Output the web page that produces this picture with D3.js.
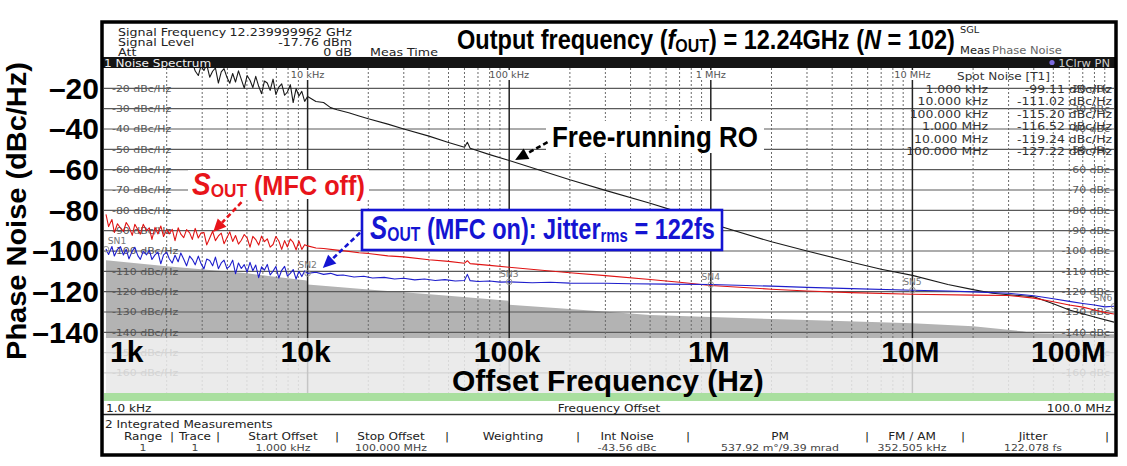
<!DOCTYPE html>
<html>
<head>
<meta charset="utf-8">
<script src="https://d3js.org/d3.v7.min.js"></script>
<style>
  body { margin: 0; background: #fff; }
  svg { display: block; }
</style>
</head>
<body>
<script>
// ---- chart data (frequencies in kHz, levels in dBc/Hz) ----
var decadeFreqs = [1, 10, 100, 1000, 10000, 100000];
var decadeLabels = ["1k", "10k", "100k", "1M", "10M", "100M"];
var topFreqs = [10, 100, 1000, 10000];
var topFreqLabels = ["10 kHz", "100 kHz", "1 MHz", "10 MHz"];
var bigYTicks = [-20, -40, -60, -80, -100, -120, -140];
var gridLevels = [-20, -30, -40, -50, -60, -70, -80, -90, -100, -110, -120, -130, -140, -150, -160];

var spotFreqLabels = ["1.000 kHz", "10.000 kHz", "100.000 kHz", "1.000 MHz", "10.000 MHz", "100.000 MHz"];
var spotValues = [-99.11, -111.02, -115.20, -116.52, -119.24, -127.22];
var markerNames = ["SN1", "SN2", "SN3", "SN4", "SN5", "SN6"];

// low offset part (1 kHz - 10 kHz) is measured with few averages -> noisy
var noisyFreqsKHz = [1.00, 1.03, 1.07, 1.10, 1.14, 1.18, 1.22, 1.26, 1.30, 1.35,
  1.39, 1.44, 1.48, 1.53, 1.59, 1.64, 1.69, 1.75, 1.81, 1.87,
  1.93, 2.00, 2.06, 2.13, 2.20, 2.28, 2.35, 2.43, 2.51, 2.60,
  2.68, 2.77, 2.87, 2.96, 3.06, 3.16, 3.27, 3.38, 3.49, 3.61,
  3.73, 3.85, 3.98, 4.11, 4.25, 4.39, 4.54, 4.69, 4.85, 5.01,
  5.18, 5.35, 5.53, 5.72, 5.91, 6.11, 6.31, 6.52, 6.74, 6.96,
  7.20, 7.44, 7.69, 7.94, 8.21, 8.48, 8.77, 9.06, 9.36, 9.67];
var mfcOnNoisy = [-99.0, -101.7, -97.8, -102.5, -99.2, -97.9, -102.0, -99.2, -103.9, -100.0,
  -98.2, -102.4, -104.1, -100.2, -101.9, -99.6, -104.2, -101.9, -100.6, -106.3,
  -101.9, -100.6, -103.8, -105.9, -102.1, -105.3, -101.0, -104.1, -107.3, -102.5,
  -104.1, -106.8, -102.5, -106.2, -108.8, -104.0, -104.7, -107.3, -103.0, -108.7,
  -105.9, -104.5, -108.7, -107.4, -104.5, -111.2, -105.9, -108.6, -106.7, -110.4,
  -105.6, -109.7, -106.9, -113.1, -107.8, -109.4, -106.6, -111.8, -109.9, -107.6,
  -113.3, -109.5, -107.6, -112.3, -111.0, -109.1, -113.8, -110.0, -112.6, -109.8];
var mfcOffNoisy = [-82.0, -88.0, -84.5, -90.9, -86.6, -88.7, -90.4, -86.0, -88.1, -92.3,
  -86.9, -89.6, -91.7, -86.9, -90.0, -88.6, -94.3, -88.4, -91.6, -87.7,
  -92.9, -89.5, -91.6, -89.3, -94.9, -88.6, -91.7, -93.4, -89.5, -91.1,
  -94.3, -88.9, -93.6, -91.2, -90.9, -97.0, -93.6, -90.3, -94.9, -92.6,
  -91.2, -96.4, -93.5, -90.6, -95.3, -92.4, -96.6, -94.7, -91.9, -93.5,
  -98.1, -92.8, -94.4, -97.1, -92.7, -95.4, -94.0, -98.1, -96.8, -92.9,
  -95.1, -99.2, -94.9, -98.0, -94.1, -95.8, -99.4, -95.1, -99.2, -96.9];
var freeRunNoisy = [null, null, null, null, null, null, null, null, null, null,
  null, null, null, null, null, null, null, null, null, null,
  null, null, null, null, null, null, null, null, null, null,
  -7.0, -11.5, -13.7, -8.9, -11.2, -8.3, -14.5, -11.6, -10.0, -17.4,
  -11.9, -10.3, -14.6, -17.5, -12.7, -16.9, -11.4, -15.6, -19.9, -13.7,
  -16.0, -19.6, -14.1, -19.0, -22.6, -16.4, -17.4, -21.0, -15.5, -23.0,
  -19.4, -17.8, -23.4, -21.8, -18.2, -27.0, -20.2, -23.8, -21.5, -26.4];

var mfcOnSmooth = [[10, -111], [11, -110.5], [12, -111.5], [13, -111], [14, -112], [15, -111.8], [17, -112.8],
  [19, -112.4], [21, -113.3], [24, -113], [27, -113.8], [30, -113.4], [34, -114.2], [38, -113.8], [43, -114.5],
  [48, -114.1], [54, -114.8], [60, -114.5], [62, -111.5], [64, -114.6], [70, -115], [80, -114.8], [90, -115.3],
  [100, -115.2], [130, -115.6], [160, -115.4], [200, -115.8], [300, -115.9], [400, -116.1], [600, -116.3],
  [1000, -116.5], [2000, -117.3], [3000, -117.9], [5000, -118.5], [10000, -119.3], [15000, -119.7],
  [20000, -120.1], [30000, -120.8], [40000, -122], [50000, -123.5], [60000, -124.8], [70000, -125.8],
  [80000, -126.6], [90000, -127.5], [100000, -127.2]];
var mfcOffSmooth = [[10, -97.5], [11, -98.5], [12, -98.8], [14, -99.6], [16, -100.2], [18, -100.9], [20, -101.2],
  [25, -102.4], [30, -102.9], [40, -104.3], [50, -105.1], [60, -106], [62, -104.8], [64, -106.2], [80, -107.1],
  [100, -108], [150, -109.6], [200, -110.7], [300, -112.1], [500, -114], [700, -115.4], [1000, -117],
  [2000, -118.8], [3000, -119.7], [5000, -120.5], [10000, -121.3], [20000, -121.7], [30000, -121.9],
  [40000, -123.2], [50000, -125], [60000, -126.6], [70000, -127.6], [80000, -129], [90000, -130.2], [100000, -131]];
var freeRunSmooth = [[10, -24], [11, -26.5], [12, -27], [13, -29.5], [14, -30.5], [16, -32], [18, -33.6], [20, -35],
  [25, -37.6], [30, -40], [40, -43.5], [50, -46.6], [60, -49], [62, -46.5], [64, -49.5], [80, -52.6], [100, -55.5],
  [150, -61], [200, -65], [300, -70.2], [500, -76.5], [700, -81], [1000, -86.5], [2000, -95.5], [3000, -100],
  [5000, -105.5], [7000, -109], [10000, -112], [15000, -116.5], [20000, -119], [25000, -120.8], [30000, -121.5],
  [40000, -122.5], [50000, -126], [60000, -129], [80000, -132.5], [100000, -135]];
var noiseFloor = [[1, -104.5], [2, -107.5], [5, -111], [9.9, -114.5], [10, -116.5], [20, -119], [50, -122],
  [99, -124.5], [100, -126.5], [200, -128.5], [500, -131.5], [1000, -132.5], [3000, -134], [10000, -135.5],
  [20000, -137], [35000, -139.5], [40000, -140.5], [100000, -141]];

var tableHeaders = ["Range", "Trace", "Start Offset", "Stop Offset", "Weighting", "Int Noise", "PM", "FM / AM", "Jitter"];
var tableValues = ["1", "1", "1.000 kHz", "100.000 MHz", "", "-43.56 dBc", "537.92 m\u00b0/9.39 mrad", "352.505 kHz", "122.078 fs"];

(function () {
    var W = 1127, H = 466;
    var stretch = 1.15; // instrument text is wider than tall in the screenshot
    var instFont = "'DejaVu Sans', Verdana, sans-serif";
    var boldFont = "'Liberation Sans', Arial, sans-serif";
    var narrowFont = "'Liberation Sans Narrow', 'Arial Narrow', 'Liberation Sans', Arial, sans-serif";

    var plotL = 104, plotR = 1114, plotT = 68, plotB = 393.3;
    var x = d3.scaleLog().domain([1, 100000]).range([106, 1114]);
    var y = d3.scaleLinear().domain([-10, -170]).range([68, 393.3]);

    var svg = d3.select("body").append("svg")
        .attr("width", W)
        .attr("height", H)
        .style("background-color", "#fff");

    svg.append("defs").append("clipPath").attr("id", "plotClip")
        .append("rect")
        .attr("x", plotL).attr("y", plotT)
        .attr("width", plotR - plotL).attr("height", plotB - plotT);

    function instText(g, px, py, str, size, anchor, fill, weight) {
        return g.append("text")
            .attr("transform", "translate(" + px + "," + py + ") scale(" + stretch + ",1)")
            .attr("text-anchor", anchor || "start")
            .attr("font-family", instFont)
            .attr("font-size", size)
            .attr("font-weight", weight || "normal")
            .attr("fill", fill || "#222")
            .text(str);
    }

    // squeeze a text element so it spans [left, left + width]
    function fitText(sel, left, width) {
        var bb = sel.node().getBBox();
        var sx = width / bb.width;
        sel.attr("transform", "translate(" + (left - bb.x * sx) + ",0) scale(" + sx + ",1)");
    }

    function joinTrace(noisy, smooth) {
        return noisyFreqsKHz.map(function (f, i) { return [f, noisy[i]]; }).concat(smooth);
    }

    /**
     * header
     */
    var header = svg.append("g");
    instText(header, 118, 36, "Signal Frequency", 11);
    instText(header, 352, 36, "12.239999962 GHz", 11, "end");
    instText(header, 118, 46, "Signal Level", 11);
    instText(header, 352, 46, "-17.76 dBm", 11, "end");
    instText(header, 118, 56, "Att", 11);
    instText(header, 352, 56, "0 dB", 11, "end");
    instText(header, 370, 56, "Meas Time", 11);
    instText(header, 960, 33, "SGL", 8.5, "start", "#222");
    instText(header, 960, 54, "Meas", 10, "start", "#222");
    instText(header, 992, 54, "Phase Noise", 10, "start", "#666");

    var title = header.append("text")
        .attr("y", 49)
        .attr("font-family", narrowFont)
        .attr("font-weight", "bold")
        .attr("font-size", 28)
        .attr("fill", "#000");
    title.append("tspan").text("Output frequency (");
    title.append("tspan").attr("font-style", "italic").text("f");
    title.append("tspan").attr("font-size", 19).attr("dy", 3).text("OUT");
    title.append("tspan").attr("dy", -3).text(") = 12.24GHz (");
    title.append("tspan").attr("font-style", "italic").text("N");
    title.append("tspan").text(" = 102)");
    fitText(title, 457, 498);

    /**
     * plot area
     */
    var plot = svg.append("g").attr("clip-path", "url(#plotClip)");
    plot.append("rect")
        .attr("x", plotL).attr("y", plotT)
        .attr("width", plotR - plotL).attr("height", plotB - plotT)
        .attr("fill", "#fff");

    plot.append("path")
        .datum(noiseFloor)
        .attr("fill", "#b3b3b3")
        .attr("d", d3.area()
            .x(function (d) { return x(d[0]); })
            .y0(y(-170))
            .y1(function (d) { return y(d[1]); }));

    plot.selectAll("line.hgrid")
        .data(gridLevels)
        .enter().append("line")
        .attr("class", "hgrid")
        .attr("x1", plotL).attr("x2", plotR)
        .attr("y1", function (d) { return y(d); })
        .attr("y2", function (d) { return y(d); })
        .attr("stroke", "#5a5a5a")
        .attr("stroke-width", 1.2);

    var minorTicks = x.ticks().filter(function (t) {
        return decadeFreqs.indexOf(t) < 0;
    });
    plot.selectAll("line.vminor")
        .data(minorTicks)
        .enter().append("line")
        .attr("class", "vminor")
        .attr("x1", function (d) { return x(d); })
        .attr("x2", function (d) { return x(d); })
        .attr("y1", plotT).attr("y2", plotB)
        .attr("stroke", "#6a6a6a")
        .attr("stroke-width", 1)
        .attr("stroke-dasharray", "2,2");

    plot.selectAll("line.vmajor")
        .data(topFreqs)
        .enter().append("line")
        .attr("class", "vmajor")
        .attr("x1", function (d) { return x(d); })
        .attr("x2", function (d) { return x(d); })
        .attr("y1", plotT).attr("y2", plotB)
        .attr("stroke", "#222")
        .attr("stroke-width", 1.5);

    // frequency labels along the top of the grid
    topFreqs.forEach(function (f, i) {
        plot.append("rect")
            .attr("x", x(f) - 17).attr("y", plotT + 2)
            .attr("width", 34).attr("height", 10)
            .attr("fill", "#fff");
        instText(plot, x(f), plotT + 10, topFreqLabels[i], 8.5, "middle", "#555");
    });

    gridLevels.forEach(function (v) {
        instText(plot, 112, y(v) + 3.5, v + " dBc/Hz", 9.5, "start", "#555");
        instText(plot, 1110, y(v) + 3.5, v + " dBc", 9.5, "end", "#555");
    });

    // traces
    var line = d3.line()
        .defined(function (d) { return d[1] !== null; })
        .x(function (d) { return x(d[0]); })
        .y(function (d) { return y(d[1]); });

    var traces = [
        { data: joinTrace(freeRunNoisy, freeRunSmooth), color: "#1a1a1a" },
        { data: joinTrace(mfcOffNoisy, mfcOffSmooth), color: "#e01414" },
        { data: joinTrace(mfcOnNoisy, mfcOnSmooth), color: "#1f1fcc" }
    ];
    plot.selectAll("path.trace")
        .data(traces)
        .enter().append("path")
        .attr("class", "trace")
        .attr("fill", "none")
        .attr("stroke", function (d) { return d.color; })
        .attr("stroke-width", 1.1)
        .attr("stroke-linejoin", "round")
        .attr("d", function (d) { return line(d.data); });

    // spot noise markers
    decadeFreqs.forEach(function (f, i) {
        var mx = x(f), my = y(spotValues[i]);
        plot.append("circle")
            .attr("cx", mx).attr("cy", my).attr("r", 2.8)
            .attr("fill", "none").attr("stroke", "#999").attr("stroke-width", 1);
        var lx = Math.min(Math.max(mx, 117), 1103);
        instText(plot, lx, my - 5, markerNames[i], 8, "middle", "#777");
    });

    // spot noise table
    instText(plot, 957, 80, "Spot Noise [T1]", 10.5, "start", "#333");
    spotFreqLabels.forEach(function (s, i) {
        var by = 93 + i * 12.4;
        instText(plot, 988, by, s, 10.8, "end", "#333");
        instText(plot, 1112, by, spotValues[i].toFixed(2) + " dBc/Hz", 10.8, "end", "#333");
    });

    // washed-out lower band where the axis labels sit
    plot.append("rect")
        .attr("x", plotL).attr("y", 338)
        .attr("width", plotR - plotL).attr("height", plotB - 338)
        .attr("fill", "#fff").attr("opacity", 0.74);

    /**
     * bottom strip + integrated measurement table
     */
    var bottom = svg.append("g");
    bottom.append("rect")
        .attr("x", plotL).attr("y", 393)
        .attr("width", plotR - plotL).attr("height", 8)
        .attr("fill", "#a9df9f");
    instText(bottom, 106, 411.5, "1.0 kHz", 10.5, "start", "#222");
    instText(bottom, 609, 411.5, "Frequency Offset", 10.5, "middle", "#222");
    instText(bottom, 1111, 411.5, "100.0 MHz", 10.5, "end", "#222");
    bottom.append("line")
        .attr("x1", 102).attr("x2", 1116)
        .attr("y1", 414.5).attr("y2", 414.5)
        .attr("stroke", "#222").attr("stroke-width", 1.5);
    instText(bottom, 105, 427.5, "2 Integrated Measurements", 10.5, "start", "#222");

    var colCenters = [143, 195, 283, 391, 513, 627, 780, 912, 1033];
    var colBars = [172, 218, 337, 447, 578, 688, 867, 963, 1107];
    tableHeaders.forEach(function (h, i) {
        instText(bottom, colCenters[i], 439.5, h, 10.5, "middle", "#222");
        instText(bottom, colCenters[i], 450.5, tableValues[i], 9.5, "middle", "#444");
    });
    colBars.forEach(function (bx) {
        instText(bottom, bx, 439.5, "|", 10.5, "middle", "#222");
    });

    /**
     * frame and title bar
     */
    var bar = svg.append("g");
    bar.append("rect")
        .attr("x", 102).attr("y", 57)
        .attr("width", 1014).attr("height", 11)
        .attr("fill", "#151515");
    instText(bar, 104, 66.5, "1 Noise Spectrum", 10.5, "start", "#f2f2f2");
    bar.append("circle").attr("cx", 1052).attr("cy", 62.5).attr("r", 2.6).attr("fill", "#7b6be0");
    instText(bar, 1110, 66.5, "1Clrw PN", 10, "end", "#cfcfcf");
    svg.append("rect")
        .attr("x", 102).attr("y", 22)
        .attr("width", 1014).attr("height", 433)
        .attr("fill", "none")
        .attr("stroke", "#000")
        .attr("stroke-width", 3.5);

    /**
     * big axis labels
     */
    var axes = svg.append("g")
        .attr("font-family", boldFont)
        .attr("font-weight", "bold")
        .attr("fill", "#000");

    axes.selectAll("text.ytick")
        .data(bigYTicks)
        .enter().append("text")
        .attr("class", "ytick")
        .attr("x", 99)
        .attr("y", function (d) { return y(d) + 10.5; })
        .attr("text-anchor", "end")
        .attr("font-size", 30)
        .text(function (d) { return "\u2013" + Math.abs(d); });

    axes.selectAll("text.xtick")
        .data(decadeFreqs)
        .enter().append("text")
        .attr("class", "xtick")
        .attr("x", function (d, i) {
            if (i === 0) return 110;
            if (i === decadeFreqs.length - 1) return 1106;
            return x(d) - 2;
        })
        .attr("y", 362)
        .attr("text-anchor", function (d, i) {
            if (i === 0) return "start";
            if (i === decadeFreqs.length - 1) return "end";
            return "middle";
        })
        .attr("font-size", 30)
        .text(function (d, i) { return decadeLabels[i]; });

    var xTitle = axes.append("text")
        .attr("y", 391)
        .attr("font-size", 30)
        .text("Offset Frequency (Hz)");
    fitText(xTitle, 452, 312);

    var yTitle = axes.append("text")
        .attr("text-anchor", "middle")
        .attr("font-size", 28)
        .text("Phase Noise (dBc/Hz)");
    var ybb = yTitle.node().getBBox();
    yTitle.attr("transform", "translate(26,211) rotate(-90) scale(" + (298 / ybb.width) + ",1)");

    /**
     * annotations
     */
    var notes = svg.append("g");

    function arrow(from, to, color) {
        var x1 = x(from[0]), y1 = y(from[1]), x2 = x(to[0]), y2 = y(to[1]);
        var ang = Math.atan2(y2 - y1, x2 - x1);
        var len = 13, wid = 6;
        var bx = x2 - len * Math.cos(ang), by = y2 - len * Math.sin(ang);
        notes.append("line")
            .attr("x1", x1).attr("y1", y1).attr("x2", bx).attr("y2", by)
            .attr("stroke", color).attr("stroke-width", 2.6)
            .attr("stroke-dasharray", "5,3");
        notes.append("path")
            .attr("d", "M" + x2 + "," + y2 +
                "L" + (bx + wid * Math.sin(ang)) + "," + (by - wid * Math.cos(ang)) +
                "L" + (bx - wid * Math.sin(ang)) + "," + (by + wid * Math.cos(ang)) + "Z")
            .attr("fill", color);
    }

    // free running RO
    notes.append("rect")
        .attr("x", 546).attr("y", 121).attr("width", 218).attr("height", 32)
        .attr("fill", "#fff");
    var freeLabel = notes.append("text")
        .attr("y", 147)
        .attr("font-family", narrowFont).attr("font-weight", "bold")
        .attr("font-size", 30).attr("fill", "#000")
        .text("Free-running RO");
    fitText(freeLabel, 552, 206);
    arrow([155, -46.5], [107, -55.3], "#000");

    // S_OUT (MFC off)
    notes.append("rect")
        .attr("x", 188).attr("y", 170).attr("width", 181).attr("height", 29)
        .attr("fill", "#fff");
    var offLabel = notes.append("text")
        .attr("y", 195)
        .attr("font-family", narrowFont).attr("font-weight", "bold")
        .attr("font-size", 28).attr("fill", "#e8141a");
    offLabel.append("tspan").attr("font-style", "italic").attr("font-size", 31).text("S");
    offLabel.append("tspan").attr("font-size", 19).attr("dy", 2).text("OUT");
    offLabel.append("tspan").attr("dy", -2).text(" (MFC off)");
    fitText(offLabel, 192, 173);
    arrow([4.7, -76], [3.4, -90.7], "#e8141a");

    // S_OUT (MFC on) box
    notes.append("rect")
        .attr("x", 362).attr("y", 210).attr("width", 360).attr("height", 40)
        .attr("fill", "#fff")
        .attr("stroke", "#1414d2").attr("stroke-width", 2.6);
    var onLabel = notes.append("text")
        .attr("y", 239)
        .attr("font-family", narrowFont).attr("font-weight", "bold")
        .attr("font-size", 30).attr("fill", "#1414d2");
    onLabel.append("tspan").attr("font-style", "italic").attr("font-size", 33).text("S");
    onLabel.append("tspan").attr("font-size", 20).attr("dy", 2).text("OUT");
    onLabel.append("tspan").attr("dy", -2).text(" (MFC on): Jitter");
    onLabel.append("tspan").attr("font-size", 19).attr("dy", 3).text("rms");
    onLabel.append("tspan").attr("dy", -3).text(" = 122fs");
    fitText(onLabel, 370, 345);
    arrow([18.2, -91], [11.9, -108.4], "#1414d2");
})();
</script>
</body>
</html>
